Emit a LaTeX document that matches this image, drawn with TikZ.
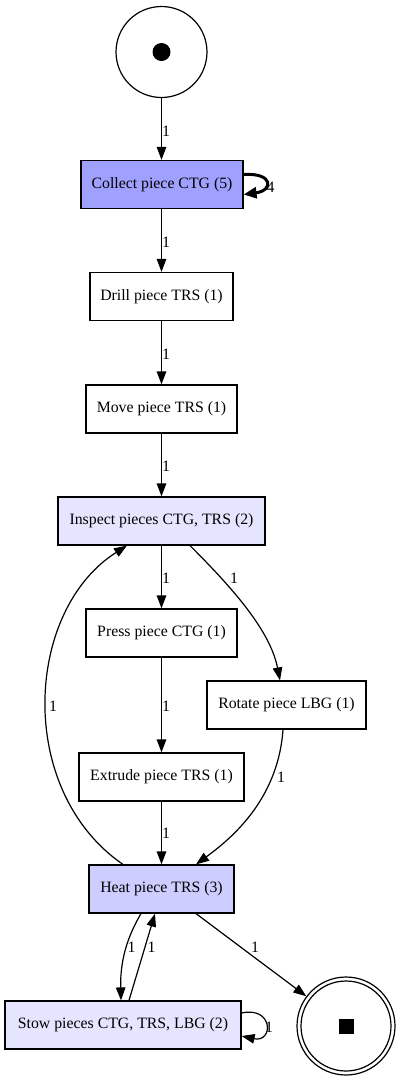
\documentclass[tikz,border=0pt]{standalone}
\usepackage{fontspec}
\setmainfont{Liberation Serif}
\usetikzlibrary{arrows.meta,calc}
\definecolor{cA}{RGB}{160,160,255}
\definecolor{cB}{RGB}{205,205,255}
\definecolor{cC}{RGB}{229,229,255}
\begin{document}
\begin{tikzpicture}[x=1pt,y=-1pt,
 box/.style={draw=black,line width=1.2pt,inner sep=0pt,font=\fontsize{15.8}{18}\selectfont,minimum height=48pt},
 arc/.style={draw=black,line width=1.2pt,-{Triangle[length=13pt,width=9.5pt]}},
 thickarc/.style={draw=black,line width=3pt,-{Triangle[length=13pt,width=11pt]}},
 lbl/.style={font=\fontsize{15.8}{18}\selectfont,inner sep=0pt}]
\useasboundingbox (0,0) rectangle (400,1080);
\fill[white] (0,0) rectangle (400,1080);
% places
\node[circle,draw,line width=1.2pt,minimum size=91pt,inner sep=0pt] (start) at (161.5,52) {};
\fill (start.center) circle (9pt);
\node[circle,draw,line width=1.2pt,minimum size=98pt,inner sep=0pt] (end) at (346,1026) {};
\draw[line width=1.2pt] (end.center) circle (45pt);
\fill ([xshift=-7.5pt,yshift=-7.5pt]end.center) rectangle ++(15,-15);
% transitions
\node[box,fill=cA,minimum width=162pt] (collect) at (162,184.5) {Collect piece CTG (5)};
\node[box,minimum width=143pt] (drill) at (161.5,296.5) {Drill piece TRS (1)};
\node[box,minimum width=151pt] (move) at (161.5,409) {Move piece TRS (1)};
\node[box,fill=cC,minimum width=207pt] (inspect) at (161.5,521) {Inspect pieces CTG, TRS (2)};
\node[box,minimum width=151pt] (press) at (161.5,633) {Press piece CTG (1)};
\node[box,minimum width=159pt] (rotate) at (286.5,705) {Rotate piece LBG (1)};
\node[box,minimum width=165pt] (extrude) at (161.5,777) {Extrude piece TRS (1)};
\node[box,fill=cB,minimum width=145pt] (heat) at (161.5,889) {Heat piece TRS (3)};
\node[box,fill=cC,minimum width=236pt] (stow) at (123,1025) {Stow pieces CTG, TRS, LBG (2)};
% arcs
\draw[arc] (start.south) -- (start.south |- collect.north);
\draw[thickarc] ([yshift=10pt]collect.east) .. controls +(30,-2) and +(30,-4) .. ([yshift=-10pt]collect.east);
\draw[arc] ([xshift=-0.5pt]collect.south) -- (drill.north);
\draw[arc] (drill) -- (move);
\draw[arc] (move) -- (inspect);
\draw[arc] (inspect) -- (press);
\draw[arc] ([xshift=28.5pt]inspect.south) .. controls +(40,40) and +(-10,-51) .. ([xshift=-6.5pt]rotate.north);
\draw[arc] (press) -- (extrude);
\draw[arc] ([xshift=-3.5pt]rotate.south) .. controls +(-5,71) and +(34,-25) .. ([xshift=34.5pt]heat.north);
\draw[arc] (extrude) -- (heat);
\draw[arc] ([xshift=-38.5pt]heat.north) .. controls (15,790) and (25,610) .. ([xshift=-34.5pt]inspect.south);
\draw[arc] ([xshift=-20.5pt]heat.south) .. controls +(-13,22) and +(-1,-41) .. ([xshift=-2pt]stow.north);
\draw[arc] ([xshift=6pt]stow.north) -- ([xshift=-6.5pt]heat.south);
\draw[arc] ([xshift=34.5pt]heat.south) -- (end);
\draw[arc] ([yshift=12pt]stow.east) .. controls +(32,-7) and +(32,7) .. ([yshift=-11pt]stow.east);
% labels
\node[lbl] (l1) at (166,131) {1};
\node[lbl] (l2) at (270.5,187) {4};
\node[lbl] (l3) at (166,242) {1};
\node[lbl] (l4) at (166,354) {1};
\node[lbl] (l5) at (166,466) {1};
\node[lbl] (l6) at (166,578) {1};
\node[lbl] (l7) at (234,578) {1};
\node[lbl] (l8) at (166,706) {1};
\node[lbl] (l9) at (281,777) {1};
\node[lbl] (l10) at (166,833) {1};
\node[lbl] (l11) at (53,706) {1};
\node[lbl] (l12) at (131.5,947) {1};
\node[lbl] (l13) at (151.5,947) {1};
\node[lbl] (l14) at (255,947) {1};
\node[lbl] (l15) at (269,1027) {1};
\end{tikzpicture}
\end{document}
